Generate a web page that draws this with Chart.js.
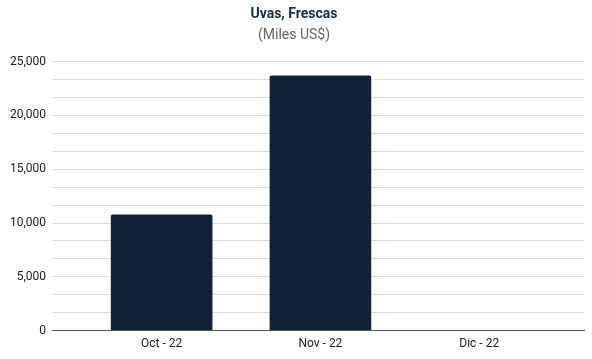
<!DOCTYPE html>
<html>
<head>
<meta charset="utf-8">
<script src="https://cdn.jsdelivr.net/npm/chart.js@4"></script>
<style>
  html, body { margin: 0; padding: 0; background: #fff; }
  #wrap { width: 592px; height: 359px; position: relative; }
</style>
</head>
<body>
<div id="wrap"><canvas id="chart"></canvas></div>
<script>
const categories = ['Oct - 22', 'Nov - 22', 'Dic - 22'];
const values = [10800, 23700, 0];
const yTicks = [0, 5000, 10000, 15000, 20000, 25000];

// bars sit on a linear x axis so the grid can run past the outer categories
const points = values.map((v, i) => ({ x: i, y: v }));

new Chart(document.getElementById('chart'), {
    type: 'bar',
    data: {
        datasets: [{
            data: points,
            backgroundColor: '#0f2236',
            borderRadius: 2,
            borderSkipped: 'bottom',
            barPercentage: 0.8,
            categoryPercentage: 0.8
        }]
    },
    options: {
        responsive: true,
        maintainAspectRatio: false,
        animation: false,
        layout: { padding: { left: 4, right: 8, top: 0, bottom: 2 } },
        plugins: {
            legend: { display: false },
            tooltip: { enabled: false },
            title: {
                display: true,
                text: 'Uvas, Frescas',
                color: '#1d2a3a',
                font: { family: 'Roboto', size: 14, weight: 'bold' },
                padding: { top: 6, bottom: 4 }
            },
            subtitle: {
                display: true,
                text: '(Miles US$)',
                color: '#666',
                font: { family: 'Roboto', size: 14 },
                padding: { bottom: 18 }
            }
        },
        scales: {
            x: {
                type: 'linear',
                offset: false,
                min: -0.69,
                max: 2.66,
                grid: { display: false, drawTicks: false },
                border: { color: '#555', width: 1 },
                afterBuildTicks: (axis) => {
                    axis.ticks = categories.map((c, i) => ({ value: i }));
                },
                ticks: {
                    color: '#222',
                    padding: 6,
                    font: { family: 'Roboto', size: 12 },
                    callback: (v) => categories[v]
                }
            },
            y: {
                min: 0,
                max: 25000,
                afterBuildTicks: (axis) => {
                    const t = [];
                    for (let i = 0; i < yTicks.length; i++) {
                        t.push({ value: yTicks[i] });
                        if (i < yTicks.length - 1) {
                            const step = (yTicks[i + 1] - yTicks[i]) / 3;
                            t.push({ value: yTicks[i] + step, minor: true });
                            t.push({ value: yTicks[i] + 2 * step, minor: true });
                        }
                    }
                    axis.ticks = t;
                },
                grid: {
                    color: '#dcdcdc',
                    drawTicks: false
                },
                border: { display: false },
                ticks: {
                    color: '#222',
                    padding: 6,
                    font: { family: 'Roboto', size: 12 },
                    callback: (v) => yTicks.includes(v) ? v.toLocaleString('en-US') : ''
                }
            }
        }
    }
});
</script>
</body>
</html>
